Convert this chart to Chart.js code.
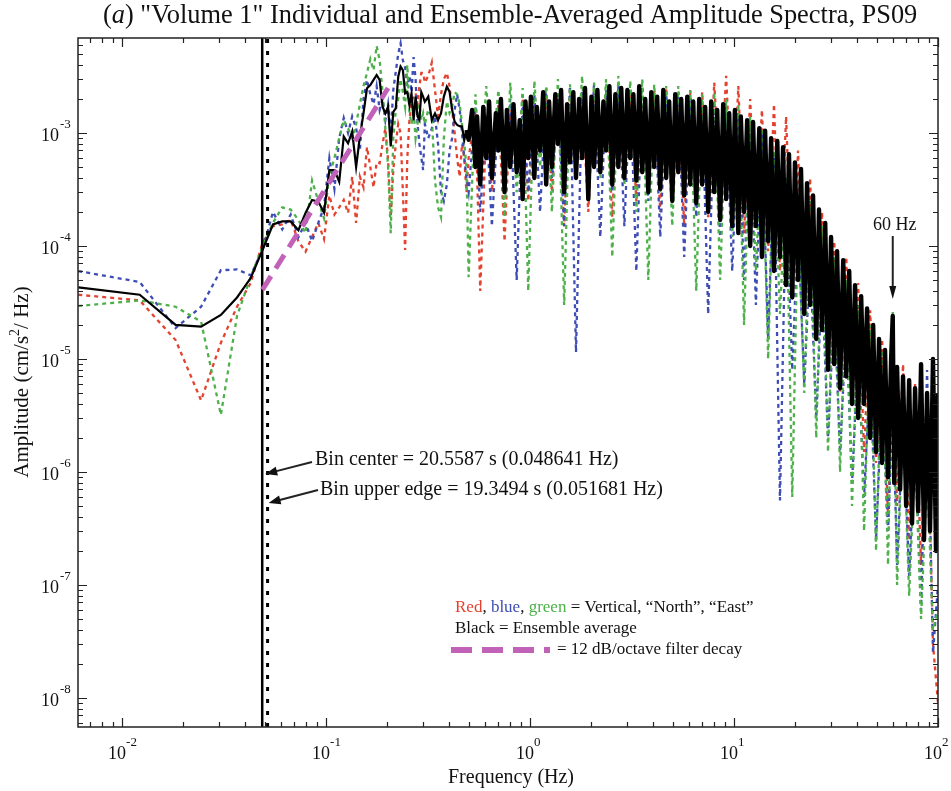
<!DOCTYPE html>
<html lang="en">
<head>
<meta charset="UTF-8">
<title>Volume 1 Amplitude Spectra, PS09</title>
<style>
    * { margin: 0; padding: 0; box-sizing: border-box; }
    body { background: #fff; width: 951px; height: 791px; overflow: hidden; }
    #chart { display: block; }
</style>
</head>
<body>
<canvas id="chart" width="951" height="791"></canvas>
<script src="https://cdn.jsdelivr.net/npm/chart.js"></script>
<script>
// Frequencies (Hz): every FFT bin at the low end, then a thinned set above 0.5 Hz
const fLow = [0.0061,0.0122,0.0183,0.0244,0.0305,0.0366,0.0427,0.0488,0.0549,0.0610,
    0.0671,0.0732,0.0793,0.0854,0.0916,0.0977,0.1038,0.1099,0.1160,0.1221,
    0.1282,0.1343,0.1404,0.1465,0.1526,0.1587,0.1648,0.1709,0.1770,0.1831,
    0.1892,0.1953,0.2014,0.2075,0.2136,0.2197,0.2258,0.2319,0.2380,0.2441,
    0.2502,0.2563,0.2624,0.2686,0.2747,0.2808,0.2869,0.2930,0.2991,0.305,
    0.317,0.330,0.342,0.354,0.366,0.378,0.391,0.403,0.415,0.427,
    0.439,0.452,0.464,0.476,0.488];
const fDense = [0.50,0.52,0.54,0.55,0.57,0.59,0.61,0.63,0.65,0.68,
    0.70,0.72,0.75,0.77,0.80,0.83,0.86,0.89,0.92,0.95,
    0.98,1.01,1.05,1.08,1.12,1.16,1.20,1.24,1.28,1.33,
    1.37,1.42,1.47,1.52,1.57,1.63,1.68,1.74,1.80,1.86,
    1.93,2.00,2.06,2.14,2.21,2.29,2.36,2.45,2.53,2.62,
    2.71,2.80,2.90,3.00,3.10,3.21,3.32,3.43,3.55,3.67,
    3.80,3.93,4.06,4.20,4.35,4.50,4.65,4.81,4.98,5.15,
    5.33,5.51,5.70,5.90,6.10,6.31,6.53,6.75,6.98,7.22,
    7.47,7.73,8.00,8.27,8.55,8.85,9.15,9.47,9.80,10.1,
    10.5,10.8,11.2,11.6,12.0,12.4,12.8,13.3,13.7,14.2,
    14.7,15.2,15.7,16.3,16.8,17.4,18.0,18.6,19.3,19.9,
    20.6,21.3,22.1,22.8,23.6,24.4,25.3,26.1,27.0,28.0,
    28.9,29.9,31.0,32.0,33.1,34.3,35.5,36.7,37.9,39.2,
    40.6,42.0,43.4,44.9,46.5,48.1,49.7,51.4,53.2,55.0,
    56.9,58.9,60.0,61.0,63.0,65.2,67.4,69.8,72.2,74.6,
    77.2,79.9,82.6,85.4,88.4,91.4,94.5,97.8,100];

// Ensemble average (black)
const blackLow = [4.3e-5,3.7e-5,2.0e-5,1.93e-5,2.45e-5,3.5e-5,5.2e-5,9.2e-5,1.55e-4,1.65e-4,
    1.65e-4,1.38e-4,1.96e-4,2.55e-4,2.47e-4,1.97e-4,4.7e-4,4.7e-4,3.7e-4,9.3e-4,
    8.1e-4,1.03e-3,5.0e-4,9.3e-4,1.49e-3,2.49e-3,2.66e-3,2.95e-3,3.26e-3,2.95e-3,
    1.71e-3,1.49e-3,1.71e-3,7.6e-4,1.54e-3,1.65e-3,3.15e-3,3.87e-3,3.6e-3,2.24e-3,
    2.3e-3,1.77e-3,2.24e-3,1.3e-3,2.1e-3,1.4e-3,1.3e-3,2.3e-3,2.1e-3,1.89e-3,
    2.1e-3,1.3e-3,1.49e-3,1.3e-3,1.49e-3,2.1e-3,2.57e-3,2.32e-3,1.6e-3,1.26e-3,
    1.18e-3,1.15e-3,1.14e-3,8.7e-4,1.06e-3];
const blackDense = [8.7e-4,1.6e-3,5e-4,1.4e-3,3.5e-4,1.7e-3,6e-4,1.9e-3,4e-4,1.5e-3,
    7e-4,2.0e-3,3e-4,1.6e-3,5e-4,1.8e-3,4.5e-4,1.3e-3,2.6e-4,1.9e-3,
    6e-4,2.1e-3,4e-4,1.7e-3,7e-4,2.3e-3,3.5e-4,1.9e-3,5e-4,2.2e-3,
    8e-4,2.4e-3,3e-4,1.8e-3,5.5e-4,2.3e-3,4e-4,2.0e-3,6e-4,2.5e-3,
    2.6e-4,2.1e-3,5e-4,2.4e-3,4.5e-4,1.9e-3,7e-4,2.6e-3,3.5e-4,2.2e-3,
    5e-4,2.5e-3,4e-4,2.4e-3,6e-4,2.2e-3,3.8e-4,2.6e-3,4.5e-4,2.0e-3,
    3e-4,2.3e-3,5e-4,2.1e-3,3.2e-4,2.4e-3,4e-4,1.9e-3,2.5e-4,2.2e-3,
    4.5e-4,2.0e-3,2.8e-4,2.1e-3,3.5e-4,1.9e-3,2.4e-4,2.0e-3,3.5e-4,1.7e-3,
    2.0e-4,1.9e-3,3e-4,1.6e-3,1.7e-4,1.8e-3,2.6e-4,1.5e-3,1.5e-4,1.6e-3,
    1.3e-4,1.4e-3,2e-4,1.3e-3,1.0e-4,1.25e-3,1.5e-4,1.1e-3,8e-5,1.05e-3,
    1.1e-4,9e-4,6e-5,8.5e-4,8e-5,7.5e-4,4.5e-5,6.5e-4,3.5e-5,5.5e-4,
    5e-5,4.8e-4,2.5e-5,3.6e-4,3e-5,2.8e-4,1.5e-5,2.1e-4,1.8e-5,1.6e-4,
    8e-6,1.2e-4,9e-6,9e-5,5.5e-6,7.5e-5,7e-6,6e-5,4e-6,4.5e-5,
    3e-6,3.6e-5,4e-6,2.8e-5,2e-6,2.0e-5,1.5e-6,1.5e-5,1.2e-6,1.2e-5,
    9e-7,1.0e-5,2.4e-5,8e-7,8.5e-6,7e-7,7e-6,5e-7,6.5e-6,3.5e-7,
    5.5e-6,4.5e-7,9e-6,2.5e-7,5e-6,3e-7,1.0e-5,2e-7,5e-6];

// Vertical component (red)
const redLow = [3.7e-5,3.3e-5,1.47e-5,4.3e-6,1.39e-5,2.9e-5,4.7e-5,1.07e-4,1.5e-4,1.55e-4,
    1.7e-4,1.1e-4,8.9e-5,1.2e-4,1.6e-4,1.15e-4,2.8e-4,1.9e-4,2.2e-4,2.55e-4,
    1.96e-4,4.1e-4,1.6e-4,4.1e-4,3.3e-4,7.5e-4,5e-4,3.3e-4,5.5e-4,5.4e-4,
    8e-4,1.1e-3,5.8e-4,1.8e-4,4.7e-4,8e-4,1.2e-3,1.0e-3,3e-4,9.2e-5,
    6e-4,1.3e-3,1.9e-3,2.1e-3,2.25e-3,1.8e-3,2.6e-3,3.4e-3,3.4e-3,2.8e-3,
    3.2e-3,4.2e-3,2.4e-3,1.4e-3,2.2e-3,3.0e-3,3.4e-3,2.6e-3,1.6e-3,1.0e-3,
    6e-4,4.1e-4,8e-4,6e-4,3e-4];
const redDense = [6e-4,1.5e-3,4e-5,1.2e-3,3e-4,1.8e-3,1.1e-4,1.6e-3,5e-4,2.0e-3,
    2.5e-4,1.8e-3,6e-4,2.2e-3,3e-4,2.0e-3,1.5e-4,2.4e-3,4e-4,2.1e-3,
    2e-4,2.5e-3,5e-4,2.3e-3,1.8e-4,2.6e-3,4e-4,2.4e-3,2.5e-4,2.6e-3,
    3.5e-4,2.4e-3,2e-4,2.5e-3,3e-4,2.3e-3,1.5e-4,2.4e-3,2.5e-4,2.3e-3,
    1.8e-4,2.8e-3,3e-4,3.2e-3,2e-4,2.6e-3,1.3e-4,2.0e-3,1.5e-4,1.6e-3,
    9e-5,1.8e-3,6e-5,1.4e-3,4e-5,7e-4,2.5e-5,4e-4,1.5e-5,2e-4,
    8e-6,1.1e-4,5e-6,8e-5,4e-6,4.7e-5,1.5e-6,2.7e-5,1.2e-6,1.5e-5,
    4e-7,1.0e-5,5e-7,9e-6,2.5e-7,6e-6,1.5e-7,4e-6,3e-8,9e-9];

// "North" component (blue)
const blueLow = [6.0e-5,4.8e-5,1.88e-5,2.9e-5,6.1e-5,6.2e-5,5.5e-5,9.2e-5,2.0e-4,1.4e-4,
    1.9e-4,1.2e-4,1.6e-4,1.1e-4,1.6e-4,2.2e-4,6e-4,3.2e-4,9e-4,1.36e-3,
    1.0e-3,1.4e-3,1.1e-3,7e-4,2.0e-3,2.95e-3,2.2e-3,1.8e-3,2.6e-3,1.6e-3,
    2.0e-3,1.3e-3,1.8e-3,1.0e-3,2.4e-3,3.5e-3,5.0e-3,6.2e-3,4.4e-3,3.8e-3,
    2.6e-3,3.2e-3,2.3e-3,4.7e-3,3.0e-3,1.2e-3,8e-4,6.1e-4,4.7e-4,1.2e-3,
    9e-4,1.1e-3,1.4e-3,8e-4,3e-4,2.5e-4,3.5e-4,7e-4,9e-4,1.6e-3,
    2.2e-3,1.6e-3,1.0e-3,6e-4,4e-4];
const blueDense = [3e-4,1.7e-3,2e-4,1.4e-3,1.5e-4,1.6e-3,3.5e-4,2.0e-3,5e-5,1.9e-3,
    3e-4,2.2e-3,2e-4,2.5e-3,4e-4,2.0e-3,1.5e-4,2.6e-3,1.15e-5,2.3e-3,
    3e-4,2.7e-3,1.2e-4,2.4e-3,3e-4,2.8e-3,1.5e-4,2.5e-3,6e-5,2.4e-3,
    2.5e-4,2.3e-3,1.2e-4,2.2e-3,2.5e-4,2.1e-3,8e-5,2.0e-3,1.8e-4,1.9e-3,
    2.5e-5,1.8e-3,1.2e-4,1.7e-3,6e-5,1.5e-3,5e-5,1.2e-3,3e-5,1.0e-3,
    1.5e-5,6e-4,5.6e-7,3e-4,8e-6,1.5e-4,6e-6,8e-5,3e-6,5e-5,
    2e-6,3e-5,1.5e-6,2e-5,8e-7,1.2e-5,6e-7,8e-6,2.5e-7,5e-6,
    3e-7,4e-6,1.5e-7,3e-6,1.2e-7,2e-6,6e-8,8e-6,2.5e-8,1e-7];

// "East" component (green)
const greenLow = [2.94e-5,3.3e-5,2.9e-5,2.14e-5,3.2e-6,2.4e-5,5.3e-5,9.9e-5,1.6e-4,2.2e-4,
    2.1e-4,1.7e-4,1.3e-4,3.8e-4,2.5e-4,1.76e-4,4.2e-4,6e-4,9e-4,1.3e-3,
    1.1e-3,9e-4,1.2e-3,1.8e-3,2.6e-3,3.4e-3,4.5e-3,3.6e-3,5.9e-3,4.4e-3,
    2.3e-3,1.1e-3,5e-4,1.3e-4,9e-4,1.6e-3,2.0e-3,3.0e-3,2.3e-3,1.7e-3,
    4.0e-3,1.5e-3,1.2e-3,1.6e-3,9e-4,1.2e-3,1.8e-3,1.3e-3,1.5e-3,1.2e-3,
    1.6e-3,1.4e-3,3.8e-4,2.2e-4,1.8e-4,9e-4,1.9e-3,1.5e-3,1.7e-3,2.3e-3,
    2.2e-3,1.8e-3,1.2e-3,8e-4,5e-4];
const greenDense = [5.3e-5,2.2e-3,4e-4,2.6e-3,6e-4,2.4e-3,1.8e-4,2.8e-3,3e-4,2.5e-3,
    4e-5,2.9e-3,5e-4,2.6e-3,2e-4,3.0e-3,3e-5,2.7e-3,4e-4,3.2e-3,
    2.5e-4,2.8e-3,4e-4,3.0e-3,8e-5,3.2e-3,3.5e-4,2.9e-3,2e-4,3.0e-3,
    5e-5,2.7e-3,3e-4,2.6e-3,1.5e-4,2.6e-3,3e-4,2.4e-3,4e-5,2.2e-3,
    2e-4,2.3e-3,5e-5,2.0e-3,1.2e-4,1.8e-3,2e-5,1.4e-3,6e-5,1.1e-3,
    1e-5,7e-4,2.5e-5,4e-4,6e-7,2e-4,5e-6,2.5e-4,2e-6,1.5e-4,
    1.5e-6,8e-5,1e-6,5e-5,5e-7,3e-5,3e-7,2e-5,2e-7,1.2e-5,
    1.5e-7,2.6e-5,1e-7,3e-6,8e-8,1.5e-6,5e-8,1e-6,4e-8,6e-8];

// 12 dB/octave filter decay (magenta dashed)
const filterHz = [0.0488, 0.2014];
const filterAmp = [4.1e-5, 2.5e-3];

// bin markers
const binCenterHz = 0.048641;
const binEdgeHz = 0.051681;
const lineHz = 60;

// axes
const xMin = 0.00608, xMax = 100;
const yMin = 5.53e-9, yMax = 6.93e-3;
const xTickExps = [-2, -1, 0, 1, 2];
const yTickExps = [-8, -7, -6, -5, -4, -3];

const RED = '#e5412f', BLUE = '#3d4db5', GREEN = '#4db04a', MAGENTA = '#c162b8';
const SERIF = '"Liberation Serif", "DejaVu Serif", serif';

function pts(fs, vs) {
    return fs.map((f, i) => ({ x: f, y: vs[i] }));
}
const fColor = fDense.filter((f, i) => i % 2 === 0);

function drawRuns(ctx, parts, x, y, align) {
    let w = 0;
    parts.forEach(p => { ctx.font = p.font; p.w = ctx.measureText(p.t).width; w += p.w; });
    let cx = align === 'center' ? x - w / 2 : align === 'right' ? x - w : x;
    ctx.textAlign = 'left';
    ctx.textBaseline = 'middle';
    parts.forEach(p => {
        ctx.font = p.font;
        ctx.fillStyle = p.color || '#111';
        ctx.fillText(p.t, cx, y + (p.dy || 0));
        cx += p.w;
    });
}

function arrow(ctx, x1, y1, x2, y2, head, half) {
    const a = Math.atan2(y2 - y1, x2 - x1);
    ctx.beginPath();
    ctx.moveTo(x1, y1);
    ctx.lineTo(x2 - Math.cos(a) * head * 0.8, y2 - Math.sin(a) * head * 0.8);
    ctx.stroke();
    ctx.beginPath();
    ctx.moveTo(x2, y2);
    ctx.lineTo(x2 - Math.cos(a) * head - Math.sin(a) * half, y2 - Math.sin(a) * head + Math.cos(a) * half);
    ctx.lineTo(x2 - Math.cos(a) * head + Math.sin(a) * half, y2 - Math.sin(a) * head - Math.cos(a) * half);
    ctx.closePath();
    ctx.fill();
}

// frame, inward ticks, labels and annotations
const decorations = {
    id: 'decorations',
    afterDraw(chart) {
        const { ctx, chartArea: a, scales: { x, y } } = chart;
        ctx.save();
        ctx.strokeStyle = '#222';
        ctx.fillStyle = '#111';
        ctx.lineWidth = 1.5;
        ctx.strokeRect(a.left, a.top, a.right - a.left, a.bottom - a.top);

        ctx.lineWidth = 1.2;
        ctx.beginPath();
        for (let e = -3; e <= 2; e++) {
            for (let m = 1; m <= 9; m++) {
                const v = m * Math.pow(10, e);
                if (v < xMin || v > xMax * 1.0001) continue;
                const px = Math.round(x.getPixelForValue(v)) + 0.5;
                const len = m === 1 ? 9 : 5;
                ctx.moveTo(px, a.bottom); ctx.lineTo(px, a.bottom - len);
                ctx.moveTo(px, a.top); ctx.lineTo(px, a.top + len);
            }
        }
        for (let e = -9; e <= -2; e++) {
            for (let m = 1; m <= 9; m++) {
                const v = m * Math.pow(10, e);
                if (v < yMin || v > yMax) continue;
                const py = Math.round(y.getPixelForValue(v)) + 0.5;
                const len = m === 1 ? 9 : 5;
                ctx.moveTo(a.left, py); ctx.lineTo(a.left + len, py);
                ctx.moveTo(a.right, py); ctx.lineTo(a.right - len, py);
            }
        }
        ctx.stroke();

        // tick labels
        xTickExps.forEach(e => {
            const px = x.getPixelForValue(Math.pow(10, e));
            drawRuns(ctx, [{ t: '10', font: '18px ' + SERIF }], px + 4, 754, 'right');
            drawRuns(ctx, [{ t: String(e), font: '13px ' + SERIF }], px + 4, 743, 'left');
        });
        yTickExps.forEach(e => {
            const py = y.getPixelForValue(Math.pow(10, e));
            drawRuns(ctx, [{ t: '10', font: '18px ' + SERIF }], 59, py + 3, 'right');
            drawRuns(ctx, [{ t: String(e), font: '13px ' + SERIF }], 60, py - 8, 'left');
        });

        // titles
        drawRuns(ctx, [
            { t: '(', font: '26.4px ' + SERIF },
            { t: 'a', font: 'italic 26.4px ' + SERIF },
            { t: ') "Volume 1" Individual and Ensemble-Averaged Amplitude Spectra, PS09', font: '26.4px ' + SERIF }
        ], 103, 16, 'left');
        drawRuns(ctx, [{ t: 'Frequency (Hz)', font: '20px ' + SERIF }], 511, 778, 'center');
        ctx.save();
        ctx.translate(22, 382);
        ctx.rotate(-Math.PI / 2);
        drawRuns(ctx, [
            { t: 'Amplitude (cm/s', font: '21px ' + SERIF },
            { t: '2', font: '14px ' + SERIF, dy: -7 },
            { t: '/ Hz)', font: '21px ' + SERIF }
        ], 0, 0, 'center');
        ctx.restore();

        // bin annotations
        ctx.lineWidth = 2;
        const xc = x.getPixelForValue(binCenterHz);
        const xe = x.getPixelForValue(binEdgeHz);
        arrow(ctx, 312, 462, xc + 3, 474, 12, 4.5);
        arrow(ctx, 318, 490, xe + 1, 503, 12, 4.5);
        drawRuns(ctx, [{ t: 'Bin center = 20.5587 s (0.048641 Hz)', font: '20px ' + SERIF }], 315, 460, 'left');
        drawRuns(ctx, [{ t: 'Bin upper edge = 19.3494 s (0.051681 Hz)', font: '20px ' + SERIF }], 320, 490, 'left');

        // 60 Hz marker
        const x60 = x.getPixelForValue(lineHz);
        arrow(ctx, x60, 236, x60, 299, 13, 3.5);
        drawRuns(ctx, [{ t: '60 Hz', font: '18px ' + SERIF }], x60 + 2, 225, 'center');

        // legend text
        const lf = '17px ' + SERIF;
        drawRuns(ctx, [
            { t: 'Red', font: lf, color: RED },
            { t: ', ', font: lf },
            { t: 'blue', font: lf, color: BLUE },
            { t: ', ', font: lf },
            { t: 'green', font: lf, color: GREEN },
            { t: ' = Vertical, \u201cNorth\u201d, \u201cEast\u201d', font: lf }
        ], 455, 608, 'left');
        drawRuns(ctx, [{ t: 'Black = Ensemble average', font: lf }], 455, 629, 'left');
        ctx.strokeStyle = MAGENTA;
        ctx.lineWidth = 6;
        ctx.setLineDash([21, 10]);
        ctx.beginPath();
        ctx.moveTo(451, 650); ctx.lineTo(550, 650);
        ctx.stroke();
        ctx.setLineDash([]);
        drawRuns(ctx, [{ t: '= 12 dB/octave filter decay', font: lf }], 557, 650, 'left');
        ctx.restore();
    }
};

const dotted = (color, data, order) => ({
    data, borderColor: color, borderWidth: 2.3, borderDash: [4, 4],
    pointRadius: 0, tension: 0, order
});

// the dense part of the black average starts from the last low-frequency bin
const blackDenseF = fLow.slice(-1).concat(fDense);
const blackDenseV = blackLow.slice(-1).concat(blackDense);

new Chart(document.getElementById('chart'), {
    type: 'line',
    data: {
        datasets: [
            { data: pts(filterHz, filterAmp), borderColor: MAGENTA, borderWidth: 5,
              borderDash: [16, 9], pointRadius: 0, order: 0 },
            { data: pts(fLow, blackLow), borderColor: '#000',
              borderWidth: 2.2, pointRadius: 0, tension: 0, order: 1 },
            { data: pts(blackDenseF, blackDenseV), borderColor: '#000',
              borderWidth: 4.4, borderJoinStyle: 'round', pointRadius: 0, tension: 0, order: 1 },
            { data: pts([binCenterHz, binCenterHz], [yMin, yMax]), borderColor: '#000',
              borderWidth: 2.5, pointRadius: 0, order: 2 },
            { data: pts([binEdgeHz, binEdgeHz], [yMin, yMax]), borderColor: '#000',
              borderWidth: 3, borderDash: [4, 8], pointRadius: 0, order: 2 },
            dotted(GREEN, pts(fLow.concat(fColor), greenLow.concat(greenDense)), 3),
            dotted(BLUE, pts(fLow.concat(fColor), blueLow.concat(blueDense)), 4),
            dotted(RED, pts(fLow.concat(fColor), redLow.concat(redDense)), 5)
        ]
    },
    options: {
        responsive: false,
        animation: false,
        devicePixelRatio: 1,
        layout: { padding: { left: 78, right: 13, top: 38, bottom: 64 } },
        plugins: { legend: { display: false }, tooltip: { enabled: false }, title: { display: false } },
        scales: {
            x: { type: 'logarithmic', min: xMin, max: xMax, display: false },
            y: { type: 'logarithmic', min: yMin, max: yMax, display: false }
        }
    },
    plugins: [decorations]
});
</script>
</body>
</html>
